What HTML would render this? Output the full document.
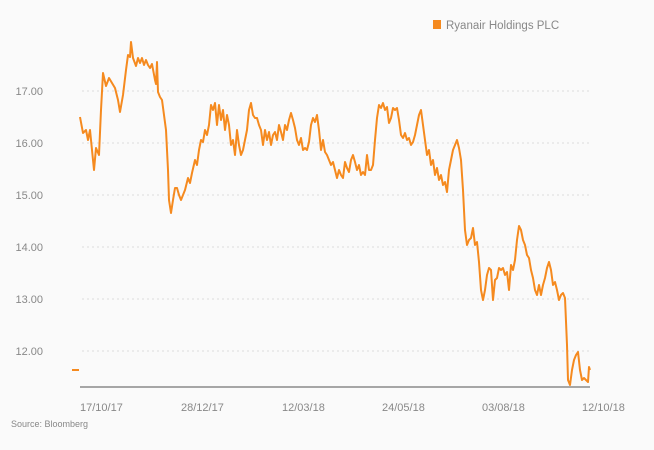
<!DOCTYPE html>
<html><head><meta charset="utf-8"><style>
html,body{margin:0;padding:0;background:#fafafa;}
svg{display:block;font-family:"Liberation Sans",sans-serif;}
</style></head><body>
<svg width="654" height="450" viewBox="0 0 654 450" xmlns="http://www.w3.org/2000/svg">
<rect width="654" height="450" fill="#fafafa"/>
<g stroke="#dcdcdc" stroke-width="1" stroke-dasharray="2,3">
<line x1="82" y1="91" x2="592" y2="91"/>
<line x1="82" y1="143" x2="592" y2="143"/>
<line x1="82" y1="195" x2="592" y2="195"/>
<line x1="82" y1="247" x2="592" y2="247"/>
<line x1="82" y1="299" x2="592" y2="299"/>
<line x1="82" y1="351" x2="592" y2="351"/>
</g>
<line x1="80" y1="387" x2="590" y2="387" stroke="#8a8a8a" stroke-width="1.5"/>
<g fill="#888" font-size="11" text-anchor="end">
<text x="43" y="95">17.00</text>
<text x="43" y="147">16.00</text>
<text x="43" y="199">15.00</text>
<text x="43" y="251">14.00</text>
<text x="43" y="303">13.00</text>
<text x="43" y="355">12.00</text>
</g>
<g fill="#888" font-size="11">
<text x="80" y="411">17/10/17</text>
<text x="181" y="411">28/12/17</text>
<text x="282" y="411">12/03/18</text>
<text x="382" y="411">24/05/18</text>
<text x="482" y="411">03/08/18</text>
<text x="582" y="411">12/10/18</text>
<text x="11" y="427" font-size="9">Source: Bloomberg</text>
</g>
<line x1="72" y1="370" x2="79" y2="370" stroke="#f58a1f" stroke-width="2"/>
<rect x="433" y="20" width="8" height="9" fill="#f58a1f"/>
<text x="446" y="29" fill="#888" font-size="11.5">Ryanair Holdings PLC</text>
<polyline fill="none" stroke="#f58a1f" stroke-width="2" stroke-linejoin="round" points="80,117 83,133 86,130 88,140 90,130 92,150 94,170 96,148 99,155 101,110 103,73 106,86 109,78 112,83 115,88 118,100 120,112 123,95 126,70 128,55 130,57 131,42 133,58 136,66 138,58 140,63 142,58 144,65 146,60 148,65 150,68 152,64 155,80 156,84 157,62 158,92 160,97 162,100 164,115 166,130 168,170 169,200 171,213 173,200 175,188 177,188 179,195 181,200 183,195 185,190 188,178 190,183 192,173 195,160 197,165 199,150 201,140 203,142 205,130 207,135 209,125 211,105 213,110 215,103 217,125 219,105 221,120 223,110 225,130 227,115 229,125 231,145 233,140 235,155 237,130 239,145 241,155 243,150 245,140 247,130 249,110 251,103 253,115 255,118 257,118 259,125 261,130 263,145 265,130 267,140 269,132 271,145 273,135 275,132 277,140 279,125 281,132 283,140 285,125 287,130 289,120 291,113 293,120 295,128 297,140 299,145 301,138 303,150 305,148 307,150 309,142 311,125 313,118 315,122 317,115 319,130 321,150 323,140 325,152 327,155 329,160 331,165 333,162 335,170 337,178 339,170 341,175 343,178 345,162 347,168 349,172 351,160 353,155 355,162 357,170 359,165 361,175 363,172 365,175 367,155 369,170 371,170 373,165 375,140 377,118 379,105 381,108 383,103 385,110 387,107 389,123 391,118 393,108 395,110 397,108 399,120 401,135 403,138 405,133 407,140 409,138 411,145 413,142 415,135 417,125 419,115 421,110 423,125 425,140 427,155 429,150 431,165 433,160 435,175 437,168 439,180 441,175 443,185 445,182 447,192 449,170 451,160 453,150 455,145 457,140 459,148 461,160 463,190 465,230 467,245 469,240 471,238 473,228 475,245 477,242 479,262 481,290 483,300 485,290 487,275 489,268 491,270 493,300 495,280 497,278 499,268 501,270 503,268 505,275 507,272 509,290 511,265 513,270 515,260 517,240 519,226 521,230 523,240 525,245 527,255 529,258 531,270 533,278 535,290 537,295 539,285 541,295 543,285 545,278 547,268 549,262 551,270 553,285 555,282 557,290 559,300 561,295 563,293 565,298 567,345 568,380 570,385 572,370 574,360 576,355 578,352 580,370 582,380 584,378 586,380 588,382 589,367 590,370"/>
</svg>
</body></html>
